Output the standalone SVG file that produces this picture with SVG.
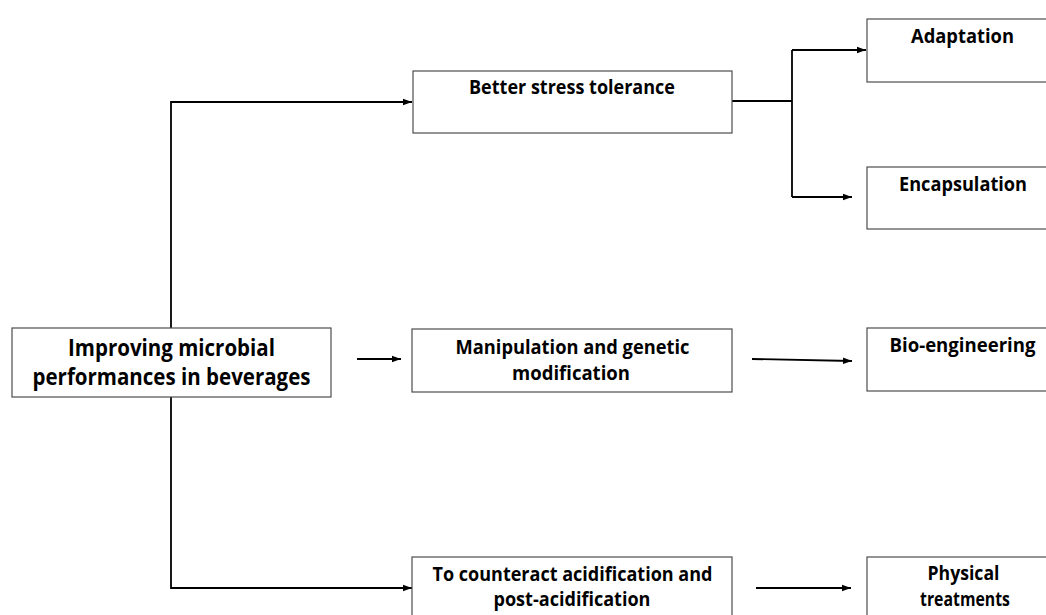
<svg xmlns="http://www.w3.org/2000/svg" width="1046" height="615" viewBox="0 0 1046 615">
  <style>
    .box { fill: #ffffff; stroke: #4d4d4d; stroke-width: 1.2; }
    .lbl { font-family: "Open Sans", "Noto Sans", "Liberation Sans", sans-serif; font-weight: bold; font-size: 19.5px; fill: #000000; text-anchor: middle; }
    .big { font-size: 23.5px; }
    .conn { fill: none; stroke: #000000; stroke-width: 1.8; }
  </style>
  <defs>
    <marker id="arr" markerUnits="userSpaceOnUse" markerWidth="10" markerHeight="8" refX="9" refY="4" orient="auto">
      <path d="M0,0.8 L9,4 L0,7.2 Z" fill="#000000"/>
    </marker>
  </defs>
  <rect width="1046" height="615" fill="#ffffff"/>

  <g id="connectors">
    <path class="conn" d="M171,328 V102 H412" marker-end="url(#arr)"/>
    <path class="conn" d="M171,397 V588 H412" marker-end="url(#arr)"/>
    <path class="conn" d="M357,359 H401" marker-end="url(#arr)"/>
    <path class="conn" d="M732,101 H792"/>
    <path class="conn" d="M792,50 V197"/>
    <path class="conn" d="M792,50 H866" marker-end="url(#arr)"/>
    <path class="conn" d="M792,197 H852" marker-end="url(#arr)"/>
    <path class="conn" d="M752,359 L852,361" marker-end="url(#arr)"/>
    <path class="conn" d="M756,588 H851" marker-end="url(#arr)"/>
  </g>

  <g id="node-main">
    <rect class="box" x="12" y="328" width="319" height="69"/>
    <text class="lbl big" x="171.5" y="356" textLength="207" lengthAdjust="spacingAndGlyphs">Improving microbial</text>
    <text class="lbl big" x="171.5" y="385" textLength="278" lengthAdjust="spacingAndGlyphs">performances in beverages</text>
  </g>

  <g id="node-stress">
    <rect class="box" x="413" y="71" width="319" height="62"/>
    <text class="lbl" x="572" y="94" textLength="206" lengthAdjust="spacingAndGlyphs">Better stress tolerance</text>
  </g>

  <g id="node-genetic">
    <rect class="box" x="412" y="329" width="320" height="63"/>
    <text class="lbl" x="572.5" y="354" textLength="234" lengthAdjust="spacingAndGlyphs">Manipulation and genetic</text>
    <text class="lbl" x="571" y="380" textLength="118" lengthAdjust="spacingAndGlyphs">modification</text>
  </g>

  <g id="node-acid">
    <rect class="box" x="412" y="557" width="320" height="70"/>
    <text class="lbl" x="572.5" y="580.5" textLength="280" lengthAdjust="spacingAndGlyphs">To counteract acidification and</text>
    <text class="lbl" x="572" y="605.5" textLength="157" lengthAdjust="spacingAndGlyphs">post-acidification</text>
  </g>

  <g id="node-adaptation">
    <rect class="box" x="867" y="19" width="200" height="63"/>
    <text class="lbl" x="962.5" y="43" textLength="103" lengthAdjust="spacingAndGlyphs">Adaptation</text>
  </g>

  <g id="node-encapsulation">
    <rect class="box" x="867" y="167" width="200" height="62"/>
    <text class="lbl" x="963" y="191" textLength="128" lengthAdjust="spacingAndGlyphs">Encapsulation</text>
  </g>

  <g id="node-bio">
    <rect class="box" x="867" y="328" width="200" height="63"/>
    <text class="lbl" x="962.5" y="352" textLength="146" lengthAdjust="spacingAndGlyphs">Bio-engineering</text>
  </g>

  <g id="node-physical">
    <rect class="box" x="867" y="557" width="200" height="70"/>
    <text class="lbl" x="963.5" y="579.5" textLength="72" lengthAdjust="spacingAndGlyphs">Physical</text>
    <text class="lbl" x="965" y="605.5" textLength="90" lengthAdjust="spacingAndGlyphs">treatments</text>
  </g>
</svg>
